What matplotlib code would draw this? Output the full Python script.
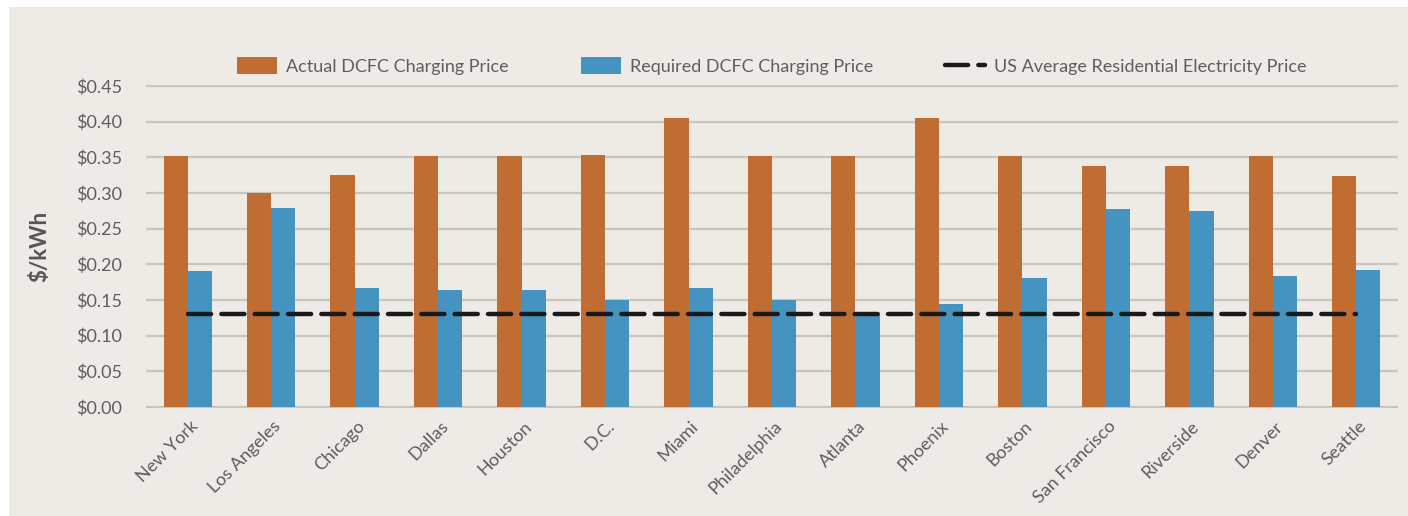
import matplotlib.pyplot as plt
import matplotlib.patches as mpatches
import numpy as np

plt.rcParams['font.family'] = ['Lato', 'DejaVu Sans']

cities = ["New York", "Los Angeles", "Chicago", "Dallas", "Houston", "D.C.",
          "Miami", "Philadelphia", "Atlanta", "Phoenix", "Boston",
          "San Francisco", "Riverside", "Denver", "Seattle"]
actual = [0.352, 0.300, 0.325, 0.352, 0.352, 0.353, 0.405, 0.352, 0.352,
          0.405, 0.352, 0.338, 0.338, 0.352, 0.324]
required = [0.191, 0.279, 0.167, 0.164, 0.164, 0.150, 0.167, 0.150, 0.129,
            0.145, 0.181, 0.278, 0.275, 0.184, 0.192]
us_avg = 0.13
yticks = [0.0, 0.05, 0.10, 0.15, 0.20, 0.25, 0.30, 0.35, 0.40, 0.45]

orange = "#C06D34"
blue = "#4593C0"
panel = "#EEEBE6"
grid = "#C9C5BF"
txt = "#5E5E5E"

fig = plt.figure(figsize=(14.08, 5.16), dpi=100, facecolor="white")
fig.patches.append(mpatches.Rectangle((9 / 1408, 0), 1, 1 - 7 / 516,
                                      transform=fig.transFigure,
                                      facecolor=panel, edgecolor="none", zorder=-10))

# y=0 at px 407, y=0.45 at px 86
ppu = (407 - 86) / 0.45
lo, hi = -0.002, 0.452
bottom = 1 - (407 + 0.002 * ppu) / 516
height = (hi - lo) * ppu / 516
ax = fig.add_axes([146 / 1408, bottom, (1398 - 146) / 1408, height])
ax.set_facecolor("none")

x = np.arange(len(cities))
w = 0.29
b1 = ax.bar(x - w / 2, actual, width=w, color=orange, zorder=3,
            label="Actual DCFC Charging Price")
b2 = ax.bar(x + w / 2, required, width=w, color=blue, zorder=3,
            label="Required DCFC Charging Price")
ln, = ax.plot(x, np.full(len(x), us_avg), color="#1A1A1A", lw=3.2,
              dashes=(5.2, 2.3), dash_capstyle="round", zorder=4,
              label="US Average Residential Electricity Price")

ax.set_xlim(-0.5, len(cities) - 0.5)
ax.set_ylim(lo, hi)
ax.set_yticks(yticks)
ax.set_yticklabels([f"${v:.2f}" for v in yticks], fontsize=13, color=txt)
ax.yaxis.grid(True, color=grid, lw=1.6, zorder=0)
ax.tick_params(axis="y", length=0, pad=17)
ax.tick_params(axis="x", length=0, pad=7)
ax.set_xticks(x + 0.02)
ax.set_xticklabels(cities, rotation=45, ha="right", rotation_mode="anchor",
                   fontsize=13, color=txt)
for s in ax.spines.values():
    s.set_visible(False)

fig.text(40 / 1408, 1 - 246 / 516, "$/kWh", rotation=90, fontsize=16,
         fontweight="bold", color="#555555", ha="center", va="center")

fig.legend(handles=[b1, b2, ln], loc="center",
           bbox_to_anchor=(772 / 1408, 1 - 66 / 516), ncol=3,
           frameon=False, fontsize=13, handlelength=2.2, handleheight=1.0,
           handletextpad=0.5, columnspacing=4.0, labelcolor=txt)

fig.savefig("out.png", dpi=100, facecolor=fig.get_facecolor())
